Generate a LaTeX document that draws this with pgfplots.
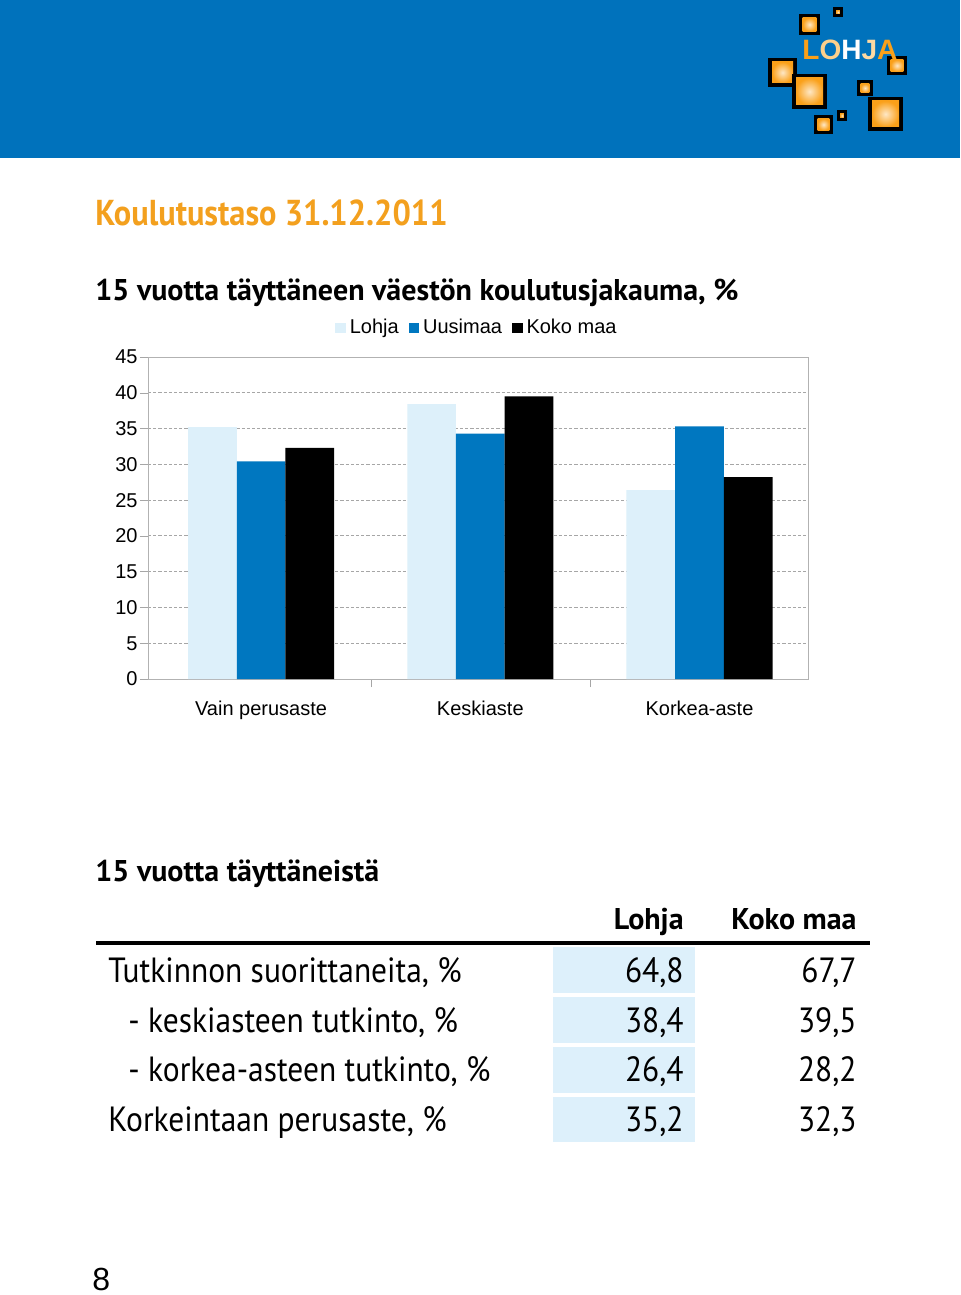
\documentclass[border=0pt]{standalone}
\usepackage{pgfplots}
\pgfplotsset{compat=1.18}
\usepackage{fontspec}
\setmainfont{PT Sans}
\newfontfamily\condfont[FakeStretch=0.9]{PT Sans}
\newfontfamily\arial{Liberation Sans}
\definecolor{lohjablue}{RGB}{0,114,188}
\definecolor{lightb}{RGB}{221,240,250}
\definecolor{uusi}{RGB}{0,119,192}
\definecolor{orangeT}{RGB}{243,160,30}
\definecolor{logoor}{RGB}{250,160,25}
\definecolor{cell}{RGB}{221,240,251}
\newcommand\sq[5]{%
  \fill[black] ({#1/2},{-#2/2}) rectangle ({#3/2},{-#4/2});
  \shade[inner color=logoor!25!white, outer color=logoor] ({#1/2+#5},{-#2/2-#5}) rectangle ({#3/2-#5},{-#4/2+#5});}
\begin{document}
\begin{tikzpicture}[x=1pt,y=1pt]
\fill[white] (0,0) rectangle (480,-647.5);
\fill[lohjablue] (0,0) rectangle (480,-79);
% logo
\sq{833}{7}{843}{17}{1.6}
\sq{799}{14}{820}{35}{1.8}
\sq{768}{58}{797}{87}{2}
\sq{792}{74}{827}{109}{2}
\sq{887}{56}{907}{75}{1.8}
\sq{857}{80}{873}{96}{1.8}
\sq{868}{97}{903}{131}{2}
\sq{837}{110}{847}{121}{1.6}
\sq{814}{115}{833}{134}{1.8}
\node[anchor=base west, inner sep=0pt, font=\arial\bfseries\fontsize{14}{14}\selectfont] at (401,-30)
  {\textcolor{logoor}{L}\textcolor{logoor!50!white}{O}\textcolor{white}{H}\textcolor{logoor!40!white}{J}\textcolor{logoor}{A}};
% titles
\node[anchor=base west, inner sep=0pt, text=orangeT, font=\condfont\bfseries\fontsize{18}{18}\selectfont] at (47.5,-112.5) {Koulutustaso 31.12.2011};
\node[anchor=base west, inner sep=0pt, font=\bfseries\fontsize{15}{15}\selectfont] at (47.5,-150) {15 vuotta täyttäneen väestön koulutusjakauma, \%};
% chart
\begin{axis}[at={(74pt,-339.5pt)}, anchor=south west, scale only axis,
  width=330pt, height=161pt,
  ybar=0pt, bar width=24.35pt,
  xmin=-0.516, xmax=2.495, ymin=0, ymax=45,
  ytick={0,5,...,45},
  xtick={0,1,2}, xticklabels={Vain perusaste,Keskiaste,Korkea-aste},
  minor xtick={0.5,1.5},
  major x tick style={draw=none},
  xtick pos=bottom, ytick pos=left,
  tick align=outside,
  major tick length=4pt, minor tick length=4pt,
  ymajorgrids, grid style={gray!70, dash pattern=on 1.6pt off 1pt, line width=0.4pt},
  axis line style={gray!60}, tick style={gray!70},
  ticklabel style={font=\arial\fontsize{10}{11}\selectfont},
  yticklabel style={xshift=2.3pt},
  xticklabel style={yshift=-3.5pt},
  /pgf/number format/assume math mode=true,
  legend style={at={(0.5,1)}, anchor=south, yshift=6pt, draw=none, fill=none,
    font=\arial\fontsize{10}{11}\selectfont, legend columns=3,
    /tikz/every even column/.append style={column sep=3pt}},
  legend image code/.code={\fill[#1] (0pt,-2.6pt) rectangle (5.2pt,2.6pt);},
]
\addplot[fill=lightb, draw=none] coordinates {(0,35.2) (1,38.4) (2,26.4)};
\addplot[fill=uusi, draw=none] coordinates {(0,30.4) (1,34.3) (2,35.3)};
\addplot[fill=black, draw=none] coordinates {(0,32.3) (1,39.5) (2,28.2)};
\legend{Lohja,Uusimaa,Koko maa}
\end{axis}
% table
\node[anchor=base west, inner sep=0pt, font=\bfseries\fontsize{15}{15}\selectfont] at (47.5,-440.5) {15 vuotta täyttäneistä};
\node[anchor=base east, inner sep=0pt, font=\bfseries\fontsize{15}{15}\selectfont] at (342,-464.5) {Lohja};
\node[anchor=base east, inner sep=0pt, font=\bfseries\fontsize{15}{15}\selectfont] at (428.5,-464.5) {Koko maa};
\fill[black] (48,-470.7) rectangle (435,-472.3);
\foreach \t/\b in {947/993,997/1043,1047/1093,1097/1142} {
  \fill[cell] (276.5,{-\t/2}) rectangle (347.5,{-\b/2});
}
\foreach \y/\lab/\xx/\va/\vb in {491/{Tutkinnon suorittaneita, \%}/54/{64,8}/{67,7},
  516/{- keskiasteen tutkinto, \%}/64/{38,4}/{39,5},
  540.5/{- korkea-asteen tutkinto, \%}/64/{26,4}/{28,2},
  565.5/{Korkeintaan perusaste, \%}/54/{35,2}/{32,3}} {
  \node[anchor=base west, inner sep=0pt, font=\condfont\fontsize{17.5}{17.5}\selectfont] at (\xx,-\y) {\lab};
  \node[anchor=base east, inner sep=0pt, font=\condfont\fontsize{17.5}{17.5}\selectfont] at (342,-\y) {\va};
  \node[anchor=base east, inner sep=0pt, font=\condfont\fontsize{17.5}{17.5}\selectfont] at (428.5,-\y) {\vb};
}
\node[anchor=base west, inner sep=0pt, font=\arial\fontsize{16}{16}\selectfont] at (46,-645) {8};
\end{tikzpicture}
\end{document}
